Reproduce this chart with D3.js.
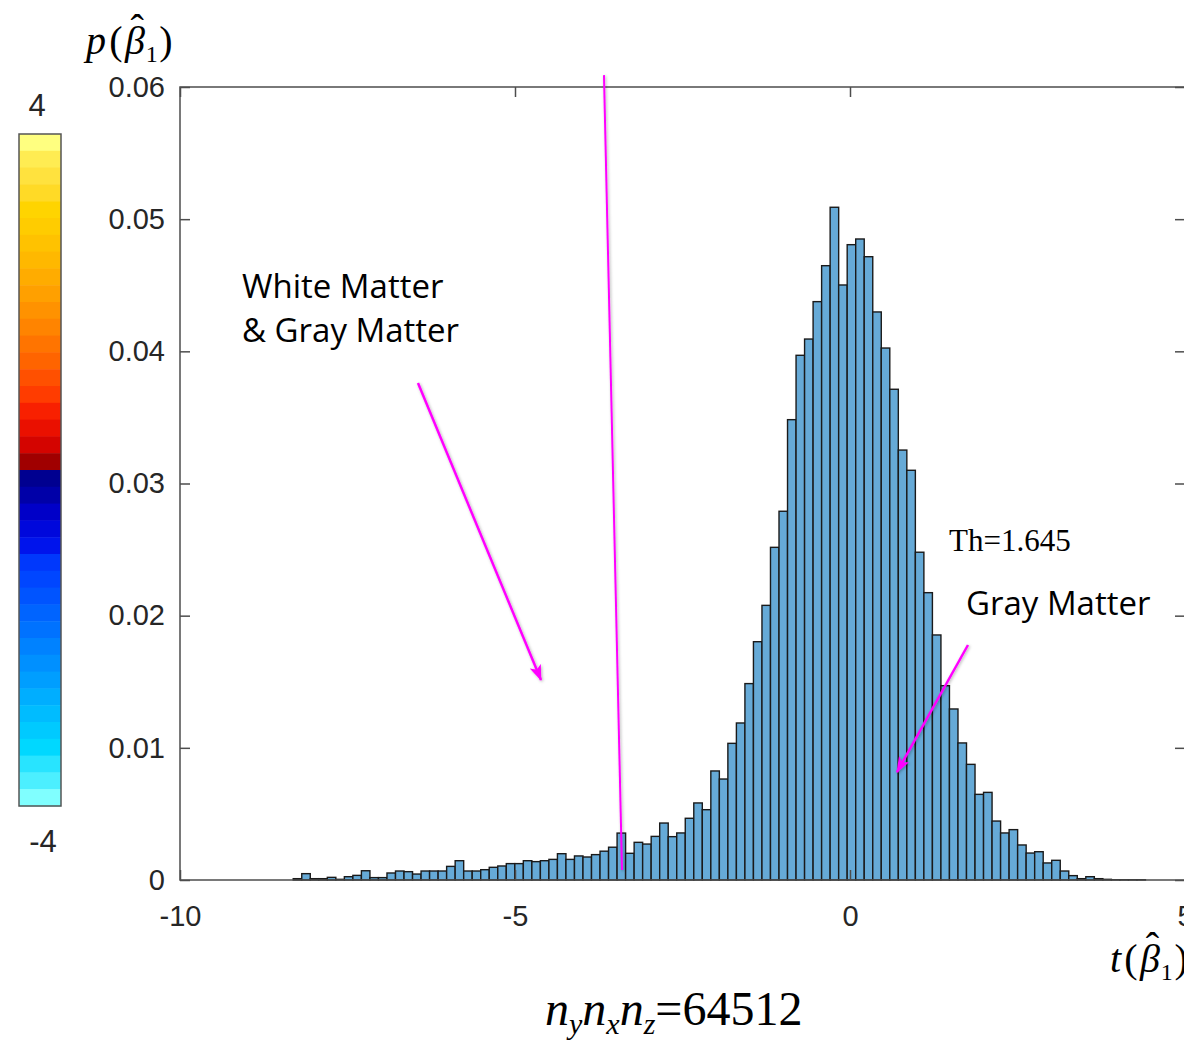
<!DOCTYPE html>
<html>
<head>
<meta charset="utf-8">
<script src="https://cdn.jsdelivr.net/npm/d3@7"></script>
<style>
  html, body { margin: 0; padding: 0; background: #fff; }
  svg { display: block; }
</style>
</head>
<body>
<div id="chart"></div>
<script>
// histogram of t(beta1), 100 bins
const binStart = -8.31;
const binWidth = 0.1272;
const density = [
  0.0001, 0.00048, 0.0001, 0.0001, 0.0002, 0.00005, 0.00025, 0.00035, 0.0007, 0.00018,
  0.00018, 0.00053, 0.00068, 0.00063, 0.00045, 0.00068, 0.00068, 0.00068, 0.00103, 0.00146,
  0.00068, 0.00068, 0.00078, 0.00096, 0.00106, 0.00124, 0.00124, 0.00146, 0.00139, 0.00146,
  0.00156, 0.00199, 0.00156, 0.00182, 0.00174, 0.00192, 0.00218, 0.00248, 0.00355, 0.00202,
  0.00285, 0.00272, 0.0033, 0.00431, 0.00328, 0.00356, 0.00467, 0.00583, 0.00532, 0.00825,
  0.00764, 0.01034, 0.01188, 0.01486, 0.01803, 0.02078, 0.02517, 0.0279, 0.03483, 0.0397,
  0.04093, 0.04376, 0.04648, 0.0509, 0.04502, 0.04807, 0.0485, 0.04716, 0.04298, 0.04025,
  0.03713, 0.03253, 0.031, 0.0248, 0.02174, 0.01854, 0.0147, 0.01294, 0.01037, 0.00875,
  0.00648, 0.00663, 0.00446, 0.00356, 0.00381, 0.00265, 0.00204, 0.00214, 0.00129, 0.00149,
  0.00068, 0.00033, 0.0001, 0.00025, 0.0001, 0.00005, 0.00002, 0.00002, 0.00002, 0.00002
];

const xTicks = [-10, -5, 0, 5];
const yTicks = [0, 0.01, 0.02, 0.03, 0.04, 0.05, 0.06];

// colour bar, from 4 (top) down to -4
const warmColors = [
  "#ffff80", "#ffec52", "#ffe23e", "#ffda26", "#ffd400", "#ffcc00", "#ffc200", "#ffb800",
  "#ffac00", "#ffa000", "#ff9200", "#ff8400", "#ff7400", "#ff6400", "#ff5000", "#ff3c00",
  "#f82000", "#ea1000", "#d40400", "#a00000"
];
const coolColors = [
  "#000090", "#0000a8", "#0000c8", "#0008dc", "#0014ec", "#0038fc", "#0046ff", "#0054ff",
  "#0064ff", "#0072ff", "#0082ff", "#0090ff", "#009eff", "#00aeff", "#00bcff", "#00caff",
  "#00d8ff", "#28e4ff", "#4cefff", "#80ffff"
];
const colorbarLabels = ["4", "-4"];

// annotations (data coordinates)
const thresholdLine = [[-3.672, 0.0609], [-3.403, 0.00076]];
const arrowWM = [[-6.448, 0.0376], [-4.612, 0.01513]];
const arrowGM = [[1.761, 0.01778], [0.701, 0.00817]];

const W = 1184, H = 1046;
const axisColor = "#262626";
const magenta = "#ff00ff";

const svg = d3.select("#chart").append("svg")
  .attr("width", W)
  .attr("height", H);

const x = d3.scaleLinear().domain([-10, 5]).range([180, 1185]);
const y = d3.scaleLinear().domain([0, 0.06]).range([880, 87]);

const defs = svg.append("defs");
defs.append("filter").attr("id", "shadow")
  .attr("x", "-50%").attr("y", "-10%").attr("width", "200%").attr("height", "120%")
  .append("feDropShadow")
  .attr("dx", 1).attr("dy", 1).attr("stdDeviation", 1.6)
  .attr("flood-color", "#000").attr("flood-opacity", 0.3);
defs.append("marker").attr("id", "head")
  .attr("markerUnits", "userSpaceOnUse")
  .attr("viewBox", "0 0 16 12")
  .attr("markerWidth", 16).attr("markerHeight", 12)
  .attr("refX", 15).attr("refY", 6)
  .attr("orient", "auto")
  .append("path")
  .attr("d", "M0,0 L16,6 L0,12 L4,6 z")
  .attr("fill", magenta);

// bars
svg.append("g")
  .selectAll("rect")
  .data(density)
  .enter()
  .append("rect")
  .attr("x", (d, i) => x(binStart + i * binWidth))
  .attr("y", (d) => y(d))
  .attr("width", (d, i) => x(binStart + (i + 1) * binWidth) - x(binStart + i * binWidth))
  .attr("height", (d) => y(0) - y(d))
  .attr("fill", "#66aad7")
  .attr("stroke", "#1a1a1a")
  .attr("stroke-width", 1.4);

// axes box
const tickFont = "'Liberation Sans', Arial, sans-serif";

svg.append("g")
  .attr("transform", "translate(0,880)")
  .call(d3.axisBottom(x).tickValues(xTicks).tickFormat((d) => String(d))
    .tickSize(-10).tickSizeOuter(0).tickPadding(25));
svg.append("g")
  .attr("transform", "translate(180,0)")
  .call(d3.axisLeft(y).tickValues(yTicks).tickFormat((d) => (d === 0 ? "0" : d3.format(".2f")(d)))
    .tickSize(-10).tickSizeOuter(0).tickPadding(15));
svg.append("g")
  .attr("transform", "translate(0,87)")
  .call(d3.axisTop(x).tickValues(xTicks).tickSize(-10).tickSizeOuter(0).tickFormat(""));
svg.append("g")
  .attr("transform", "translate(1185,0)")
  .call(d3.axisRight(y).tickValues(yTicks).tickSize(-10).tickSizeOuter(0).tickFormat(""));

svg.selectAll(".domain").remove();
svg.selectAll(".tick line").attr("stroke", "#4d4d4d").attr("stroke-width", 1.5);
svg.selectAll(".tick text")
  .attr("font-family", tickFont)
  .attr("font-size", 29)
  .attr("fill", axisColor);

svg.append("rect")
  .attr("x", 180).attr("y", 87)
  .attr("width", 1005).attr("height", 793)
  .attr("fill", "none")
  .attr("stroke", "#4d4d4d")
  .attr("stroke-width", 1.5);

// colour bar
const cbColors = warmColors.concat(coolColors);
const cb = d3.scaleBand().domain(d3.range(cbColors.length)).range([134, 806]);
svg.append("g")
  .selectAll("rect")
  .data(cbColors)
  .enter()
  .append("rect")
  .attr("x", 19)
  .attr("y", (d, i) => cb(i))
  .attr("width", 42)
  .attr("height", cb.bandwidth() + 0.5)
  .attr("fill", (d) => d);
svg.append("rect")
  .attr("x", 19).attr("y", 134).attr("width", 42).attr("height", 672)
  .attr("fill", "none").attr("stroke", "#555").attr("stroke-width", 1.5);
svg.append("text")
  .attr("x", 37).attr("y", 116)
  .attr("text-anchor", "middle")
  .attr("font-family", tickFont).attr("font-size", 31).attr("fill", axisColor)
  .text(colorbarLabels[0]);
svg.append("text")
  .attr("x", 43).attr("y", 852)
  .attr("text-anchor", "middle")
  .attr("font-family", tickFont).attr("font-size", 31).attr("fill", axisColor)
  .text(colorbarLabels[1]);

// p(beta) / t(beta) labels with hat
const serif = "'Liberation Serif', 'Times New Roman', serif";
function hatLabel(x0, y0, size, letter) {
  const t = svg.append("text")
    .attr("x", x0).attr("y", y0)
    .attr("font-family", serif).attr("font-size", size).attr("fill", "#000");
  t.append("tspan").attr("font-style", "italic").text(letter);
  t.append("tspan").attr("dx", size * 0.08).text("(");
  t.append("tspan").attr("dx", size * 0.06).attr("font-style", "italic").text("β");
  t.append("tspan").attr("font-size", size * 0.6).attr("dy", size * 0.2).attr("dx", size * 0.02).text("1");
  t.append("tspan").attr("dy", -size * 0.2).attr("dx", size * 0.04).text(")");
  const ext = t.node().getExtentOfChar(2);
  svg.append("text")
    .attr("x", ext.x + ext.width * 0.62).attr("y", y0 - size * 0.3)
    .attr("text-anchor", "middle")
    .attr("font-family", serif).attr("font-size", size).attr("fill", "#000")
    .text("ˆ");
}
hatLabel(86, 54, 40, "p");
hatLabel(1110, 972, 40, "t");

// n_y n_x n_z = 64512
const nLabel = svg.append("text")
  .attr("x", 545).attr("y", 1025)
  .attr("font-family", serif).attr("font-size", 48).attr("fill", "#000");
["y", "x", "z"].forEach((s, i) => {
  nLabel.append("tspan").attr("font-style", "italic").attr("dy", i === 0 ? 0 : -9).text("n");
  nLabel.append("tspan").attr("font-style", "italic").attr("font-size", 30).attr("dy", 9).text(s);
});
nLabel.append("tspan").attr("dy", -9).text("=64512");

// threshold line and arrows
const line = d3.line().x((d) => x(d[0])).y((d) => y(d[1]));
const ann = svg.append("g").attr("filter", "url(#shadow)");
ann.append("path")
  .attr("d", line(thresholdLine))
  .attr("stroke", magenta).attr("stroke-width", 2).attr("fill", "none");
[arrowWM, arrowGM].forEach((a) => {
  ann.append("path")
    .attr("d", line(a))
    .attr("stroke", magenta).attr("stroke-width", 2.5).attr("fill", "none")
    .attr("marker-end", "url(#head)");
});

// text annotations
const sans = "'Open Sans', Lato, sans-serif";
const wm = svg.append("text")
  .attr("font-family", sans).attr("font-size", 33).attr("fill", "#000");
wm.append("tspan").attr("x", x(-9.075)).attr("y", y(0.04403)).text("White Matter");
wm.append("tspan").attr("x", x(-9.075)).attr("y", y(0.0407)).text("& Gray Matter");
svg.append("text")
  .attr("x", x(1.478)).attr("y", y(0.02489))
  .attr("font-family", serif).attr("font-size", 31).attr("fill", "#000")
  .text("Th=1.645");
svg.append("text")
  .attr("x", x(1.731)).attr("y", y(0.02005))
  .attr("font-family", sans).attr("font-size", 33).attr("fill", "#000")
  .text("Gray Matter");
</script>
</body>
</html>
